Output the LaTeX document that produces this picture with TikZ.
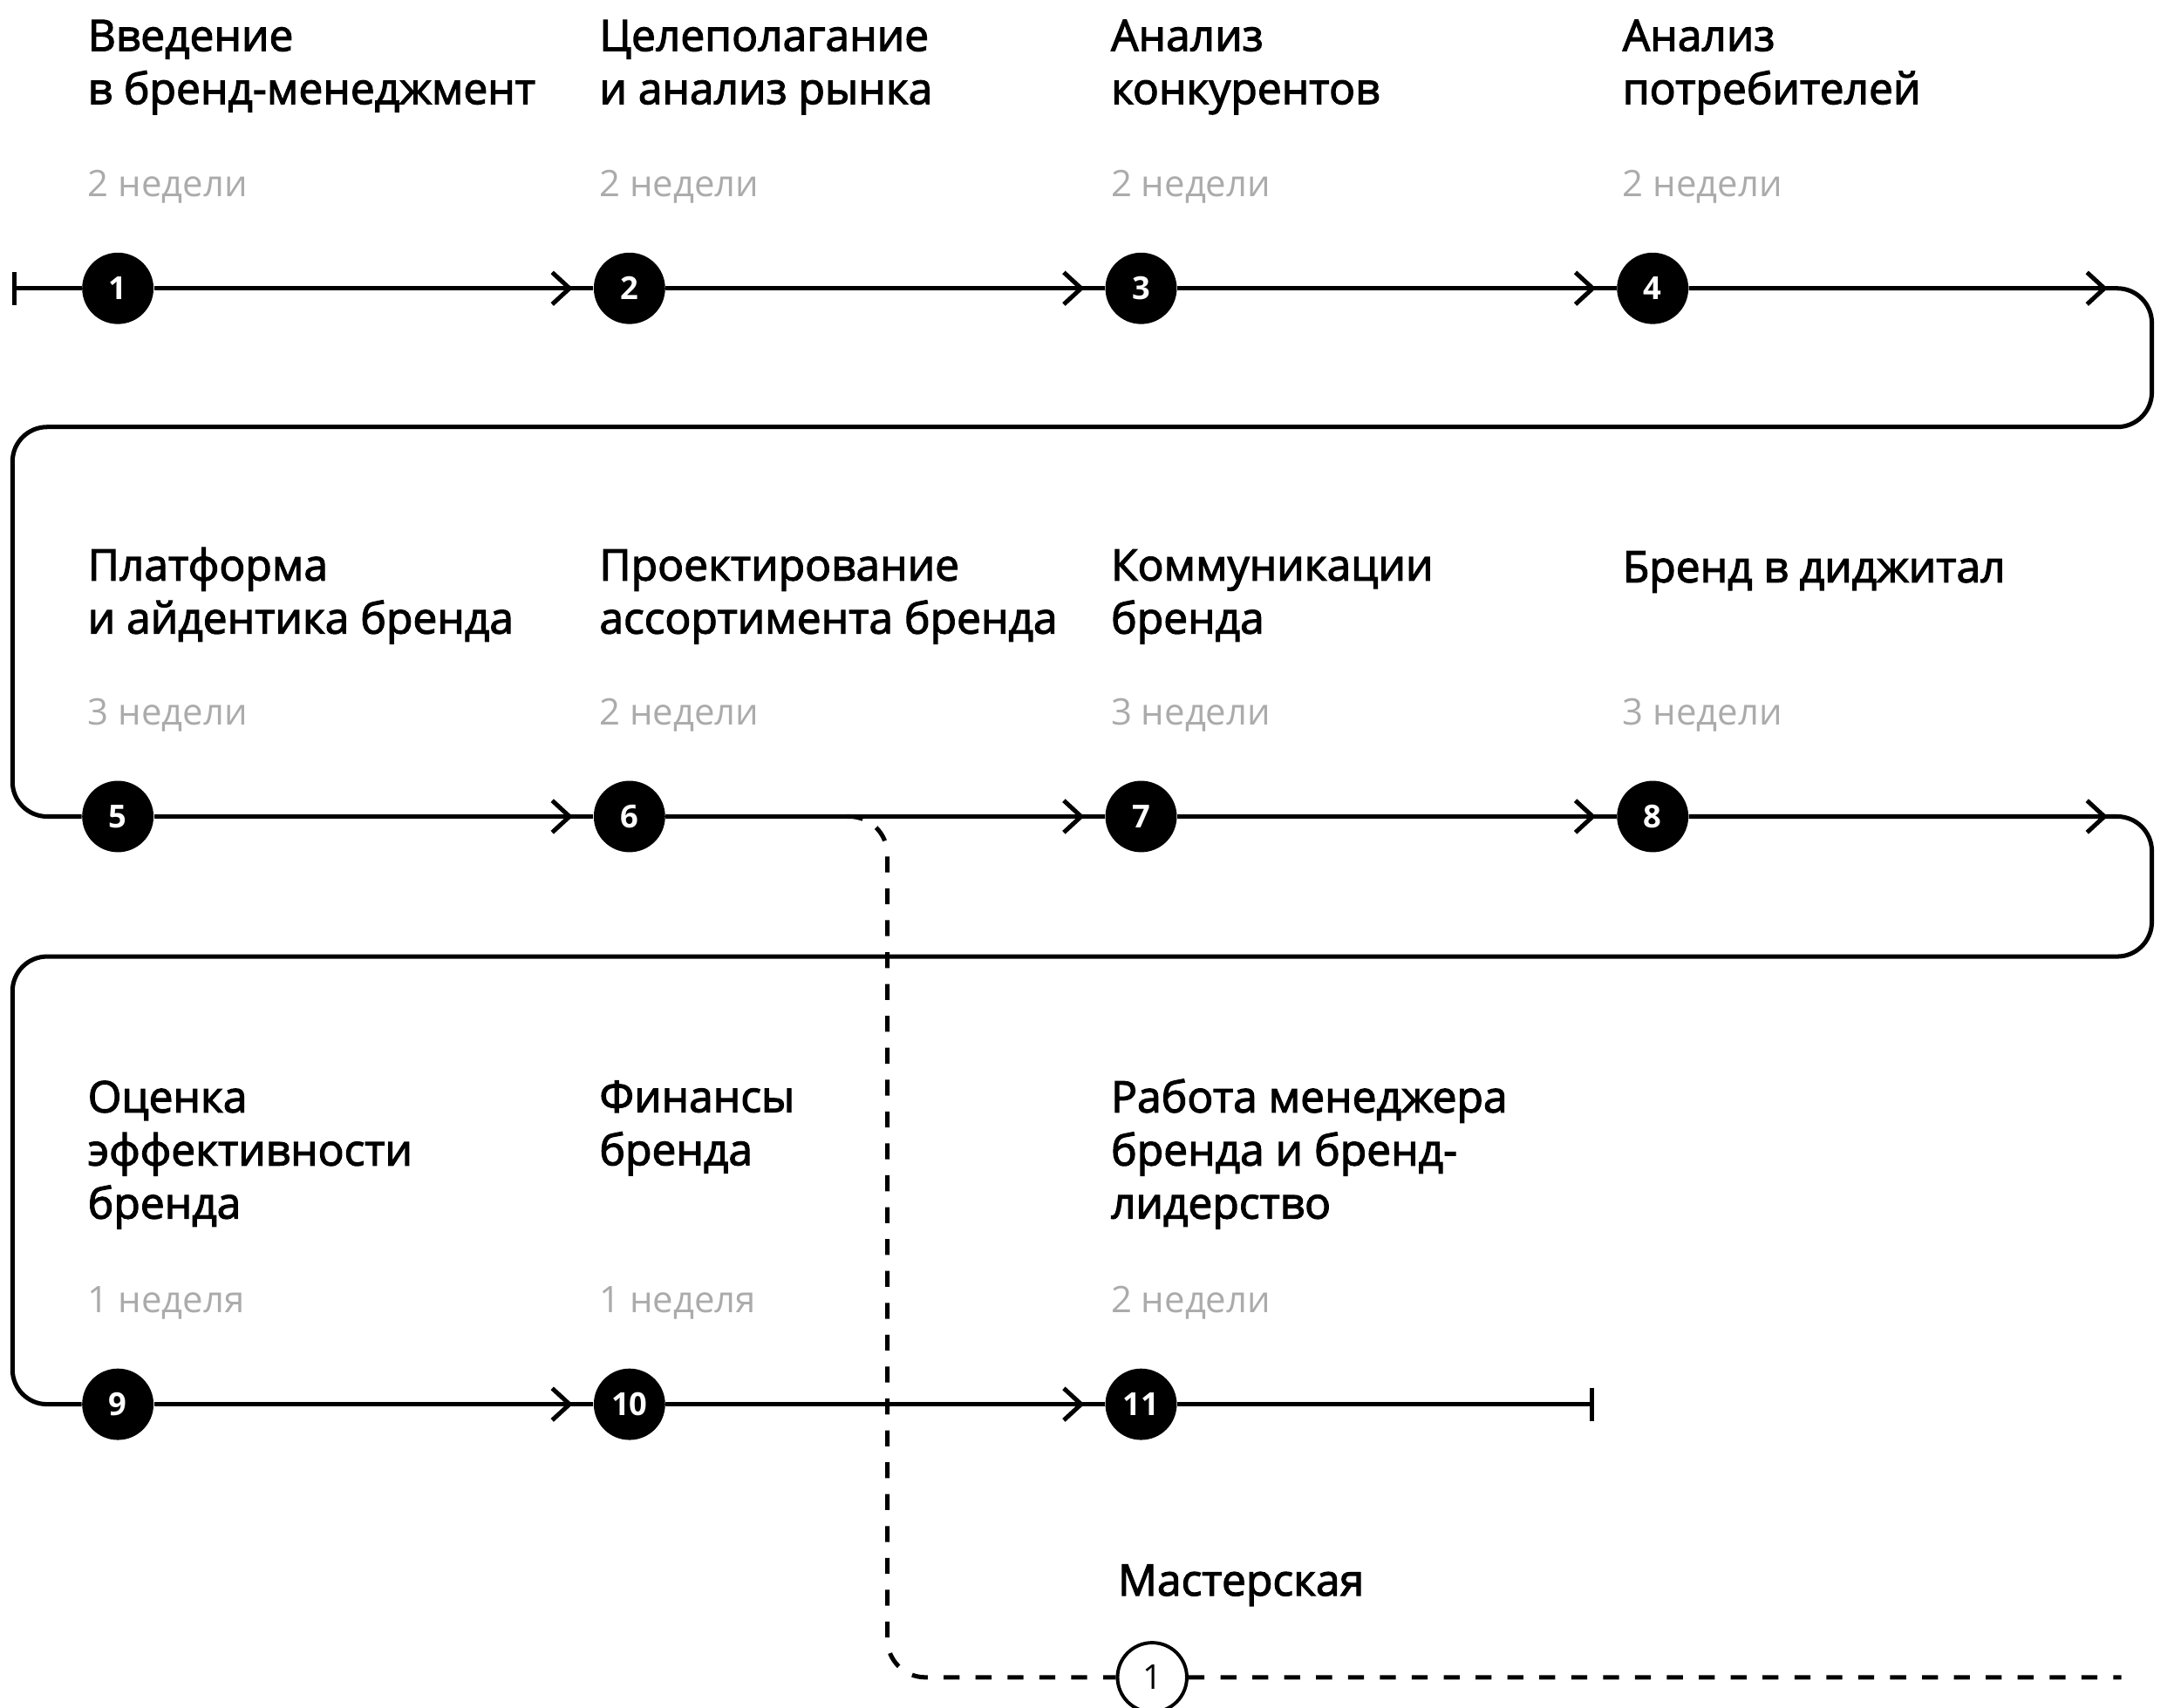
\documentclass[tikz,border=0pt]{standalone}
\usepackage{fontspec}
\setmainfont{Open Sans}
\newfontfamily\headfont{Open Sans}[FakeBold=2.4]
\usetikzlibrary{arrows.meta,decorations.markings}
\definecolor{weekgray}{HTML}{ABABAB}

\begin{document}
\begin{tikzpicture}[
    track/.style={line width=1.8pt},
    flow/.style={track, rounded corners=0.5cm, postaction={decorate},
      decoration={markings, mark=at position 6.04cm with {\arrow{Straight Barb[length=2.5mm,width=4.6mm,line width=1.8pt]}}}},
    dashline/.style={track, dash pattern=on 2.3mm off 2.3mm, rounded corners=0.55cm},
    stage/.style={circle, fill=black, text=white, minimum size=1.03cm, inner sep=0pt, font=\fontsize{13}{13}\selectfont\bfseries},
    workshop/.style={circle, draw, line width=1.4pt, fill=white, minimum size=1.0cm, inner sep=0pt, font=\fontsize{14}{14}\selectfont},
    stagetitle/.style={anchor=base west, align=left, inner sep=0pt, font=\headfont\fontsize{17.8}{21.8}\selectfont},
    duration/.style={anchor=base west, inner sep=0pt, text=weekgray, font=\fontsize{15}{15}\selectfont}
  ]
    \useasboundingbox (0,0) rectangle (31.36,-24.64);

    % Row 1
    \node[stagetitle] (t1) at (1.26,-1.50) {Введение\\в бренд-менеджмент};
    \node[stagetitle] (t2) at (8.64,-1.50) {Целеполагание\\и анализ рынка};
    \node[stagetitle] (t3) at (16.02,-1.50) {Анализ\\конкурентов};
    \node[stagetitle] (t4) at (23.40,-1.50) {Анализ\\потребителей};
    \node[duration] (d1) at (1.26,-2.84) {2 недели};
    \node[duration] (d2) at (8.64,-2.84) {2 недели};
    \node[duration] (d3) at (16.02,-2.84) {2 недели};
    \node[duration] (d4) at (23.40,-2.84) {2 недели};
    \node[stage] (c1) at (1.70,-4.16) {1};
    \node[stage] (c2) at (9.08,-4.16) {2};
    \node[stage] (c3) at (16.46,-4.16) {3};
    \node[stage] (c4) at (23.84,-4.16) {4};

    % Row 2
    \node[stagetitle] (t5) at (1.26,-9.14) {Платформа\\и айдентика бренда};
    \node[stagetitle] (t6) at (8.64,-9.14) {Проектирование\\ассортимента бренда};
    \node[stagetitle] (t7) at (16.02,-9.14) {Коммуникации\\бренда};
    \node[stagetitle] (t8) at (23.40,-8.40) {Бренд в диджитал};
    \node[duration] (d5) at (1.26,-10.46) {3 недели};
    \node[duration] (d6) at (8.64,-10.46) {2 недели};
    \node[duration] (d7) at (16.02,-10.46) {3 недели};
    \node[duration] (d8) at (23.40,-10.46) {3 недели};
    \node[stage] (c5) at (1.70,-11.78) {5};
    \node[stage] (c6) at (9.08,-11.78) {6};
    \node[stage] (c7) at (16.46,-11.78) {7};
    \node[stage] (c8) at (23.84,-11.78) {8};

    % Row 3
    \node[stagetitle] (t9) at (1.26,-17.58) {Оценка\\эффективности\\бренда};
    \node[stagetitle] (t10) at (8.64,-16.81) {Финансы\\бренда};
    \node[stagetitle] (t11) at (16.02,-17.58) {Работа менеджера\\бренда и бренд-\\лидерство};
    \node[duration] (d9) at (1.26,-18.94) {1 неделя};
    \node[duration] (d10) at (8.64,-18.94) {1 неделя};
    \node[duration] (d11) at (16.02,-18.94) {2 недели};
    \node[stage] (c9) at (1.70,-20.26) {9};
    \node[stage] (c10) at (9.08,-20.26) {10};
    \node[stage] (c11) at (16.46,-20.26) {11};

    % Workshop
    \node[stagetitle] (mtitle) at (16.12,-23.02) {Мастерская};
    \node[workshop] (m1) at (16.62,-24.2) {1};

    \coordinate (start) at (0.18,-4.16);
    \coordinate (turnA) at (31.04,-6.16);
    \coordinate (turnB) at (0.18,-6.16);
    \coordinate (turnC) at (31.04,-13.80);
    \coordinate (turnD) at (0.18,-13.80);
    \coordinate (finish) at (23.0,-20.26);
    \coordinate (dstart) at (12.22,-11.78);
    \coordinate (dcorner) at (12.8,-24.2);
    \coordinate (dend) at (30.6,-24.2);

    \draw[dashline] (dstart) -| (dcorner) -- (m1) -- (dend);

    \draw[track, {Bar[width=4.8mm]}-] (start) -- (c1);
    \draw[flow] (c1) -- (c2);
    \draw[flow] (c2) -- (c3);
    \draw[flow] (c3) -- (c4);
    \draw[flow] (c4) -| (turnA) -- (turnB) |- (c5);
    \draw[flow] (c5) -- (c6);
    \draw[flow] (c6) -- (c7);
    \draw[flow] (c7) -- (c8);
    \draw[flow] (c8) -| (turnC) -- (turnD) |- (c9);
    \draw[flow] (c9) -- (c10);
    \draw[flow] (c10) -- (c11);
    \draw[track, -{Bar[width=4.8mm]}] (c11) -- (finish);
\end{tikzpicture}
\end{document}
